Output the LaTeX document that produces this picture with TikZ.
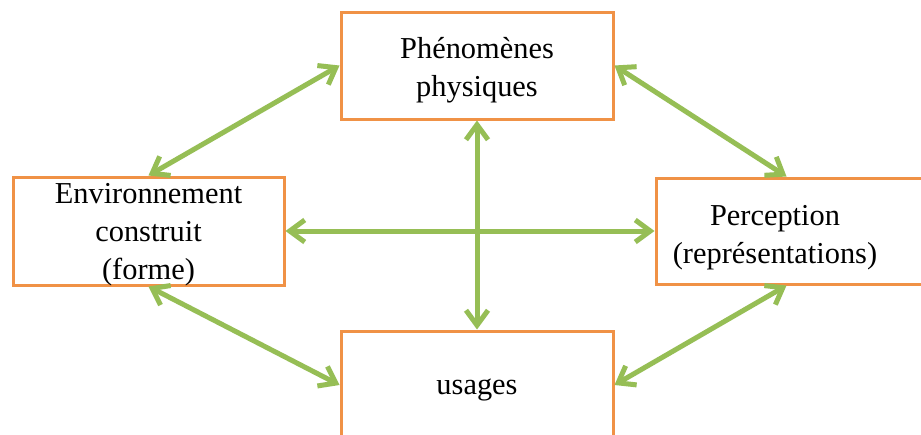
\documentclass[tikz,border=0pt]{standalone}
\usepackage{fontspec}
\setmainfont{Liberation Serif}
\usetikzlibrary{arrows.meta,calc}
\definecolor{boxorange}{RGB}{240,146,70}
\definecolor{arrgreen}{RGB}{150,190,85}
\begin{document}
\begin{tikzpicture}[x=0.5pt,y=-0.5pt,
  box/.style={draw=boxorange,line width=1.5pt,fill=white,rectangle,inner sep=0pt},
  txt/.style={align=center,inner sep=0pt,font=\fontsize{15.2}{19}\selectfont},
  link/.style={draw=arrgreen,line width=2.5pt,
    {Straight Barb[length=7.5pt,width=11pt]}-{Straight Barb[length=7.5pt,width=11pt]}}]
\useasboundingbox (0,0) rectangle (921,434);
\clip (0,0) rectangle (921,434);
\fill[white] (0,0) rectangle (921,434);
\node[box,minimum width=136pt,minimum height=53.5pt] (phys) at (477,65.5) {};
\node[txt] (physt) at (477,70) {Phénomènes\\physiques};
\node[box,minimum width=135.5pt,minimum height=54pt] (env) at (148.5,231) {};
\node[txt] (envt) at (148.5,235) {Environnement\\construit\\(forme)};
\node[box,minimum width=137pt,minimum height=53pt] (per) at (793,231) {};
\node[txt] (pert) at (775,238) {Perception\\(représentations)};
\node[box,minimum width=136pt,minimum height=54pt] (use) at (477,385) {};
\node[txt] (uset) at (477,390) {usages};
\draw[link] (phys.west) -- (env.north);
\draw[link] (phys.east) -- ([xshift=66pt]per.north west);
\draw[link] (env.south) -- (use.west);
\draw[link] (use.east) -- ([xshift=66pt]per.south west);
\draw[link] (phys.south) -- (use.north);
\draw[link] (env.east) -- (per.west);
\end{tikzpicture}
\end{document}
